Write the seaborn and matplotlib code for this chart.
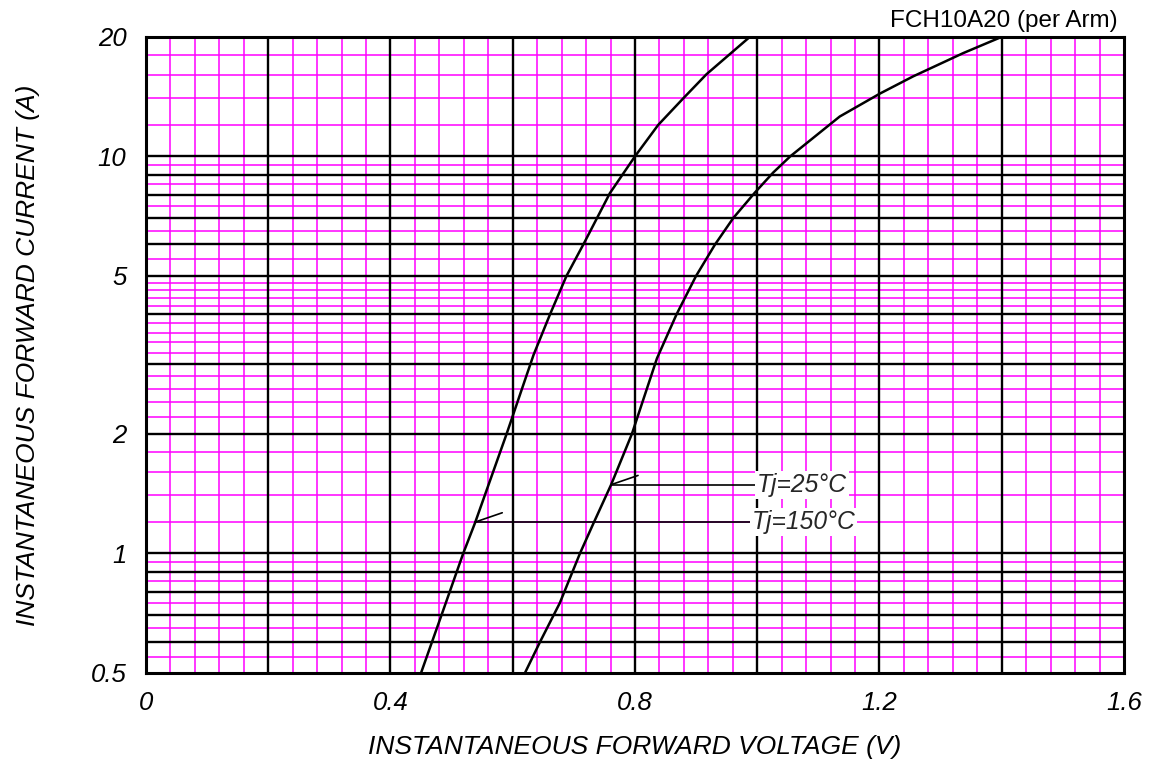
import numpy as np
import pandas as pd
import matplotlib
matplotlib.use("Agg")
import matplotlib.pyplot as plt
import matplotlib.ticker as mticker
import seaborn as sns

# ── data ────────────────────────────────────────────────────────────────────
v_150 = [0.450, 0.485, 0.519, 0.538, 0.590, 0.634, 0.661, 0.688, 0.718,
         0.759, 0.800, 0.838, 0.879, 0.917, 0.988]
i_150 = [0.50, 0.71, 1.00, 1.19, 2.00, 3.16, 4.00, 5.00, 6.10,
         8.08, 10.0, 12.0, 14.0, 16.1, 20.0]

v_25 = [0.620, 0.645, 0.677, 0.710, 0.732, 0.761, 0.795, 0.836, 0.868, 0.900,
        0.931, 0.961, 0.996, 1.026, 1.054, 1.135, 1.201, 1.255, 1.337, 1.400]
i_25 = [0.50, 0.60, 0.75, 1.00, 1.19, 1.49, 2.00, 3.10, 4.00, 5.00,
        6.00, 7.00, 8.10, 9.10, 10.0, 12.6, 14.4, 15.9, 18.2, 20.0]

series = ["Tj=25°C", "Tj=150°C"]
label_current = [1.49, 1.20]      # where the leader touches each curve

# ── grid / tick layout (log paper) ──────────────────────────────────────────
x_major = [0.2, 0.4, 0.6, 0.8, 1.0, 1.2, 1.4]
y_major = [0.6, 0.7, 0.8, 0.9, 1, 2, 3, 4, 5, 6, 7, 8, 9, 10]
y_minor = [0.55, 0.65, 0.75, 0.85, 0.95,
           1.2, 1.4, 1.6, 1.8,
           2.2, 2.4, 2.6, 2.8, 3.2, 3.4, 3.6, 3.8, 4.2, 4.4, 4.6, 4.8,
           5.5, 6.5, 7.5, 8.5, 9.5,
           12, 14, 16, 18]
x_ticks = [0, 0.4, 0.8, 1.2, 1.6]
x_ticklabels = ["0", "0.4", "0.8", "1.2", "1.6"]
y_ticks = [0.5, 1, 2, 5, 10, 20]
y_ticklabels = ["0.5", "1", "2", "5", "10", "20"]

df = pd.concat([
    pd.DataFrame({"V": v_25, "I": i_25, "Tj": series[0]}),
    pd.DataFrame({"V": v_150, "I": i_150, "Tj": series[1]}),
])

sns.set_theme(style="white")
plt.rcParams["font.family"] = ["Liberation Sans", "DejaVu Sans"]

fig = plt.figure(figsize=(11.64, 7.63), dpi=100)
ax = fig.add_axes([0.1254, 0.118, 0.8402, 0.8337])

ax.set_yscale("log")
ax.set_xlim(0, 1.6)
ax.set_ylim(0.5, 20)

# magenta fine grid
ax.xaxis.set_minor_locator(mticker.MultipleLocator(0.04))
ax.yaxis.set_minor_locator(mticker.FixedLocator(y_minor))
ax.yaxis.set_minor_formatter(mticker.NullFormatter())
ax.grid(which="minor", color="#ff00ff", linewidth=1.1)
ax.grid(which="major", visible=False)

# black coarse grid on top of the magenta one
ax.vlines(x_major, 0, 1, transform=ax.get_xaxis_transform(),
          color="black", linewidth=1.7, zorder=1.5)
ax.hlines(y_major, 0, 1, transform=ax.get_yaxis_transform(),
          color="black", linewidth=1.7, zorder=1.5)

sns.lineplot(data=df, x="V", y="I", units="Tj", estimator=None,
             color="black", linewidth=1.8, sort=False, ax=ax, zorder=3)

# leaders + labels
text_x = [1.0, 0.991]
for name, cur, tx, vs, cs in zip(series, label_current, text_x,
                                 [v_25, v_150], [i_25, i_150]):
    vx = np.interp(np.log10(cur), np.log10(cs), vs)
    ax.plot([vx, tx + 0.005], [cur, cur], color="black", lw=1.2, zorder=3)
    ax.plot([vx, vx + 0.044], [cur, cur * 1.055], color="black", lw=1.2, zorder=3)
    ax.text(tx, cur, name, fontsize=17.7, style="italic", ha="left", va="center",
            zorder=4, bbox=dict(facecolor="white", edgecolor="none", pad=1.5))

ax.set_xticks(x_ticks)
ax.set_xticklabels(x_ticklabels)
ax.set_yticks(y_ticks)
ax.set_yticklabels(y_ticklabels)
ax.tick_params(axis="both", which="both", length=0, labelsize=18.5,
               colors="black")
ax.tick_params(axis="x", pad=13)
ax.tick_params(axis="y", pad=14)
for t in ax.get_xticklabels() + ax.get_yticklabels():
    t.set_fontstyle("italic")

for s in ax.spines.values():
    s.set_visible(True)
    s.set_color("black")
    s.set_linewidth(2.2)
    s.set_zorder(5)

ax.set_xlabel("INSTANTANEOUS FORWARD VOLTAGE (V)", fontsize=19,
              style="italic", color="black")
ax.set_ylabel("INSTANTANEOUS FORWARD CURRENT (A)", fontsize=19,
              style="italic", color="black")
ax.xaxis.set_label_coords(0.5, -0.0975)
ax.yaxis.set_label_coords(-0.108, 0.5)

fig.text(0.9605, 0.9646, "FCH10A20 (per Arm)", fontsize=17.5,
         ha="right", va="baseline", color="black")

fig.savefig("out.png", dpi=100)
